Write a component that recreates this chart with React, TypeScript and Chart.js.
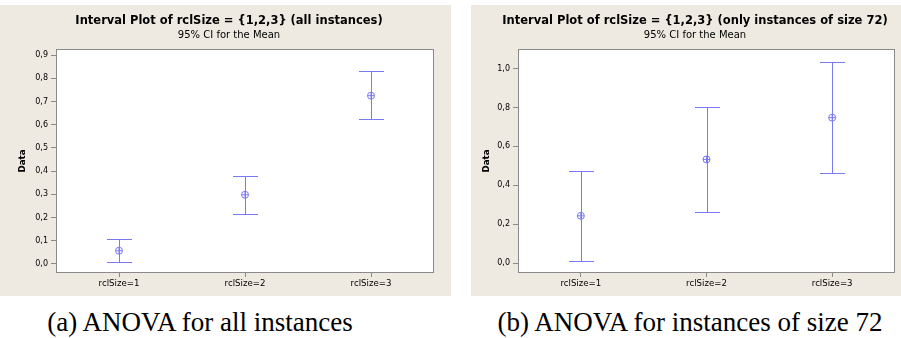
import React, { useEffect, useRef } from 'react';
import { Chart, registerables } from 'chart.js';

Chart.register(...registerables);

// ---------- data ----------
const categories = ['rclSize=1', 'rclSize=2', 'rclSize=3'];

const meanAll = [0.057, 0.298, 0.725];
const lowAll = [0.008, 0.215, 0.623];
const highAll = [0.106, 0.381, 0.83];
const yTicksAll = [0, 0.1, 0.2, 0.3, 0.4, 0.5, 0.6, 0.7, 0.8, 0.9];

const mean72 = [0.243, 0.533, 0.748];
const low72 = [0.012, 0.264, 0.462];
const high72 = [0.474, 0.804, 1.035];
const yTicks72 = [0, 0.2, 0.4, 0.6, 0.8, 1.0];

const titleAll = 'Interval Plot of rclSize = {1,2,3} (all instances)';
const title72 = 'Interval Plot of rclSize = {1,2,3} (only instances of size 72)';
const subtitleText = '95% CI for the Mean';
const yAxisTitle = 'Data';
const captionAll = '(a) ANOVA for all instances';
const caption72 = '(b) ANOVA for instances of size 72';

// ---------- styles ----------
const BEIGE = '#eeeae1';
const BLUE = 'rgb(122,122,245)';
const FRAME = '#8a8a8a';
const UI_FONT = '"DejaVu Sans", Verdana, sans-serif';

const panelPlugin = {
  id: 'panel',
  beforeDraw(chart: any) {
    const { ctx, chartArea: a, width, height } = chart;
    ctx.save();
    ctx.fillStyle = BEIGE;
    ctx.fillRect(0, 0, width, height);
    ctx.fillStyle = '#ffffff';
    ctx.fillRect(a.left, a.top, a.right - a.left, a.bottom - a.top);
    ctx.restore();
  },
  afterDatasetsDraw(chart: any, _args: any, opts: any) {
    const { ctx } = chart;
    const xs = chart.scales.x;
    const ys = chart.scales.y;
    const lows: number[] = opts.lows || [];
    const highs: number[] = opts.highs || [];
    ctx.save();
    ctx.strokeStyle = BLUE;
    ctx.lineWidth = 1;
    lows.forEach((lo, i) => {
      const px = Math.round(xs.getPixelForValue(i)) + 0.5;
      const yl = Math.round(ys.getPixelForValue(lo)) + 0.5;
      const yh = Math.round(ys.getPixelForValue(highs[i])) + 0.5;
      ctx.beginPath();
      ctx.moveTo(px, yl);
      ctx.lineTo(px, yh);
      ctx.moveTo(px - 12.5, yl);
      ctx.lineTo(px + 12.5, yl);
      ctx.moveTo(px - 12.5, yh);
      ctx.lineTo(px + 12.5, yh);
      ctx.stroke();
    });
    ctx.restore();
  },
  afterDraw(chart: any) {
    const { ctx, chartArea: a } = chart;
    ctx.save();
    ctx.strokeStyle = FRAME;
    ctx.lineWidth = 1;
    ctx.strokeRect(a.left + 0.5, a.top + 0.5, a.right - a.left - 1, a.bottom - a.top - 1);
    ctx.restore();
  },
};

type Props = {
  width: number;
  height: number;
  title: string;
  means: number[];
  lows: number[];
  highs: number[];
  yTicks: number[];
  yMin: number;
  yMax: number;
  padLeft: number;
  yAxisWidth: number;
  padRight: number;
  yTitlePad: number;
};

function IntervalChart(p: Props) {
  const ref = useRef<HTMLCanvasElement | null>(null);
  useEffect(() => {
    if (!ref.current) return;
    const chart = new Chart(ref.current, {
      type: 'line',
      data: {
        labels: categories,
        datasets: [
          {
            data: p.means,
            showLine: false,
            pointStyle: 'circle',
            pointRadius: 3.5,
            pointBorderWidth: 1,
            pointBorderColor: BLUE,
            pointBackgroundColor: 'rgba(0,0,0,0)',
          },
          {
            data: p.means,
            showLine: false,
            pointStyle: 'cross',
            pointRadius: 3.5,
            pointBorderWidth: 1,
            pointBorderColor: BLUE,
            pointBackgroundColor: 'rgba(0,0,0,0)',
          },
        ],
      },
      options: {
        responsive: false,
        animation: false,
        events: [],
        devicePixelRatio: 1,
        layout: { padding: { left: p.padLeft, right: p.padRight, top: 0, bottom: 0 } },
        plugins: {
          legend: { display: false },
          tooltip: { enabled: false },
          title: {
            display: true,
            text: p.title,
            color: '#000',
            font: { family: UI_FONT, size: 11.5, weight: 'bold' },
            padding: { top: 9, bottom: 1.2 },
          },
          subtitle: {
            display: true,
            text: subtitleText,
            color: '#000',
            font: { family: UI_FONT, size: 10 },
            padding: { top: 0, bottom: 8 },
          },
          panel: { lows: p.lows, highs: p.highs },
        } as any,
        scales: {
          x: {
            type: 'category',
            offset: true,
            grid: { offset: false, drawOnChartArea: false, drawTicks: true, tickLength: 4, color: FRAME },
            border: { display: false },
            ticks: {
              color: '#000',
              font: { family: UI_FONT, size: 8.6 },
              padding: 2,
              maxRotation: 0,
              autoSkip: false,
            },
            afterFit: (s: any) => {
              s.height = 23;
            },
          },
          y: {
            type: 'linear',
            min: p.yMin,
            max: p.yMax,
            afterBuildTicks: (s: any) => {
              s.ticks = p.yTicks.map((v) => ({ value: v }));
            },
            afterFit: (s: any) => {
              s.width = p.yAxisWidth;
            },
            grid: { drawOnChartArea: false, drawTicks: true, tickLength: 5, color: FRAME },
            border: { display: false },
            ticks: {
              color: '#000',
              font: { family: UI_FONT, size: 8 },
              padding: 3,
              callback: (v: any) => Number(v).toFixed(1).replace('.', ','),
            },
            title: {
              display: true,
              text: yAxisTitle,
              color: '#000',
              font: { family: UI_FONT, size: 8.7, weight: 'bold' },
              padding: { top: p.yTitlePad, bottom: 0 },
            },
          },
        },
      } as any,
      plugins: [panelPlugin as any],
    });
    return () => chart.destroy();
  }, []);
  return (
    <canvas
      ref={ref}
      width={p.width}
      height={p.height}
      style={{ display: 'block', width: p.width + 'px', height: p.height + 'px' }}
    />
  );
}

const captionStyle: React.CSSProperties = {
  position: 'absolute',
  top: 307,
  height: 30,
  lineHeight: '30px',
  fontFamily: '"Liberation Serif", "Times New Roman", serif',
  fontSize: 27,
  color: '#000',
  textAlign: 'center',
  whiteSpace: 'nowrap',
};

export default function App() {
  useEffect(() => {
    document.body.style.margin = '0';
    document.body.style.background = '#ffffff';
  }, []);
  return (
    <div style={{ position: 'relative', width: 901, height: 338, background: '#fff', overflow: 'hidden' }}>
      <div style={{ position: 'absolute', left: 0, top: 5 }}>
        <IntervalChart
          width={451}
          height={291}
          title={titleAll}
          means={meanAll}
          lows={lowAll}
          highs={highAll}
          yTicks={yTicksAll}
          yMin={-0.039}
          yMax={0.926}
          padLeft={24}
          yAxisWidth={32}
          padRight={17}
          yTitlePad={-6.2}
        />
      </div>
      <div style={{ position: 'absolute', left: 471, top: 5 }}>
        <IntervalChart
          width={430}
          height={291}
          title={title72}
          means={mean72}
          lows={low72}
          highs={high72}
          yTicks={yTicks72}
          yMin={-0.051}
          yMax={1.101}
          padLeft={24}
          yAxisWidth={23}
          padRight={6}
          yTitlePad={-13.2}
        />
      </div>
      <div style={{ ...captionStyle, left: 0, width: 400 }}>{captionAll}</div>
      <div style={{ ...captionStyle, left: 480, width: 420 }}>{caption72}</div>
    </div>
  );
}
